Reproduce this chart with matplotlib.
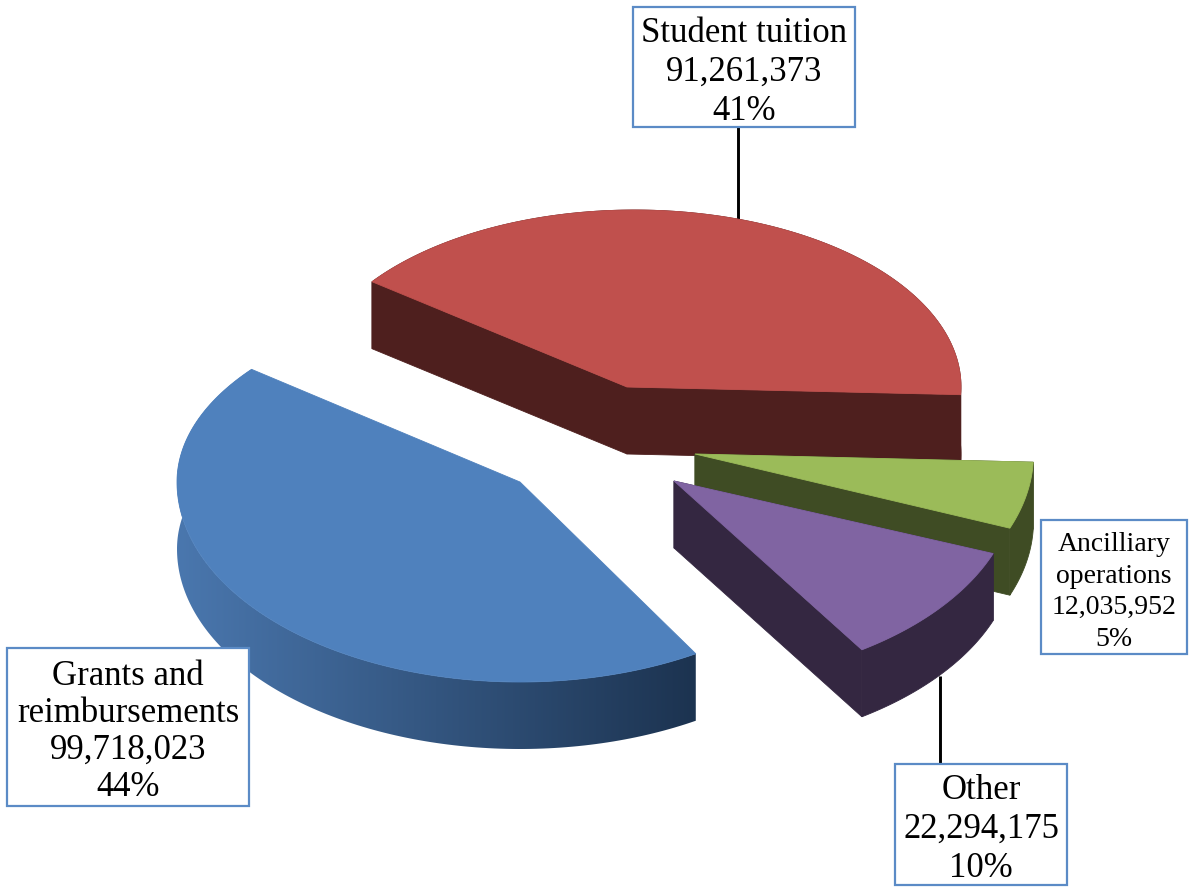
import numpy as np
import matplotlib
matplotlib.use("Agg")
import matplotlib.pyplot as plt
from matplotlib.colors import to_rgb
from matplotlib.patches import PathPatch, Polygon, Rectangle
from matplotlib.path import Path

# Revenue sources, in drawing order (back to front, clockwise)
categories = ["Student tuition", "Ancilliary\noperations", "Other", "Grants and\nreimbursements"]
amounts = [91261373, 12035952, 22294175, 99718023]

top_colors = ["#C0504D", "#9BBB59", "#8064A2", "#4F81BD"]
wall_colors = ["#4E1F1E", "#3F4C24", "#342741", None]
blue_wall_left = "#4A77AE"
blue_wall_right = "#1C3350"

# Exploded layout in pixels: apex, ellipse centre x, radii, angle nudge
layout = [
    dict(apex=(627, 387), ex=634.5, rx=326.5, ry_up=177, ry_down=190, twist=0.0),
    dict(apex=(695, 454), ex=695.0, rx=338.5, ry_up=190, ry_down=202, twist=0.0),
    dict(apex=(674, 481), ex=674.0, rx=342.0, ry_up=190, ry_down=202, twist=0.5),
    dict(apex=(520, 482), ex=520.0, rx=343.0, ry_up=181, ry_down=200, twist=-2.0),
]
START_ANGLE = 143.5
DEPTH = 67

# Label boxes: left, top, right, bottom, font size, line spacing
boxes = [
    (633, 7, 855, 127, 25, 1.24),
    (1041, 520, 1187, 654, 20, 1.34),
    (895, 764, 1067, 885, 25, 1.24),
    (7, 648, 249, 806, 25, 1.17),
]
leaders = [(738, 127, 221), (940, 676, 764)]
LABEL_DROP = 5

fig = plt.figure(figsize=(11.93, 8.88), dpi=100)
ax = fig.add_axes([0, 0, 1, 1])


def arc_points(cfg, t0, t1, n=160):
    t = np.radians(np.linspace(t0, t1, n))
    s = np.sin(t)
    ry = np.where(s > 0, cfg["ry_up"], cfg["ry_down"])
    return np.column_stack([cfg["ex"] + cfg["rx"] * np.cos(t), cfg["apex"][1] - ry * s])


total = sum(amounts)
angle = START_ANGLE
for i, (amount, cfg) in enumerate(zip(amounts, layout)):
    span = amount / total * 360
    t0, t1 = angle + cfg["twist"], angle - span + cfg["twist"]
    angle -= span
    apex = np.array(cfg["apex"], dtype=float)
    arc = arc_points(cfg, t0, t1)
    top = np.vstack([apex, arc])
    drop = np.array([0, DEPTH])

    # Outer wall plus the two radial faces; the top face hides whatever faces away
    wall = np.vstack([arc, (arc + drop)[::-1]])
    face_a = np.vstack([apex, arc[0], arc[0] + drop, apex + drop])
    face_b = np.vstack([apex, arc[-1], arc[-1] + drop, apex + drop])
    z = 2 + i
    if wall_colors[i] is not None:
        for poly in (face_a, face_b, wall):
            ax.add_patch(Polygon(poly, closed=True, fc=wall_colors[i], ec=wall_colors[i], lw=0.6, zorder=z))
    else:
        # Horizontal shading along the curved wall of the blue slice
        left, right = np.array(to_rgb(blue_wall_left)), np.array(to_rgb(blue_wall_right))
        frac = np.linspace(0, 1, 256)[:, None]
        shade = (left + (right - left) * frac)[None, :, :]
        x0, x1 = wall[:, 0].min(), wall[:, 0].max()
        y0, y1 = wall[:, 1].min(), wall[:, 1].max()
        im = ax.imshow(shade, extent=(x0, x1, y1, y0), aspect="auto", zorder=z, interpolation="bilinear")
        clip = PathPatch(Path(np.vstack([wall, wall[0]]), closed=True), transform=ax.transData, fc="none", ec="none")
        ax.add_patch(clip)
        im.set_clip_path(clip)
    ax.add_patch(Polygon(top, closed=True, fc=top_colors[i], ec=top_colors[i], lw=0.6, zorder=z + 0.5))

# Leader lines sit behind the slices and boxes
for x, y0, y1 in leaders:
    ax.plot([x, x], [y0, y1], color="black", lw=2.1, zorder=1, solid_capstyle="butt")

for name, amount, (l, t, r, b, size, spacing) in zip(categories, amounts, boxes):
    ax.add_patch(Rectangle((l, t), r - l, b - t, fc="white", ec="#5B8BC6", lw=1.6, zorder=10))
    label = f"{name}\n{amount:,}\n{amount / total * 100:.0f}%"
    ax.text((l + r) / 2, (t + b) / 2 + LABEL_DROP, label, ha="center", va="center", ma="center",
            family="Liberation Serif", fontsize=size, linespacing=spacing, color="black", zorder=11)

ax.set_xlim(0, 1193)
ax.set_ylim(888, 0)
ax.axis("off")
fig.savefig("out.png", dpi=100, facecolor="white")
